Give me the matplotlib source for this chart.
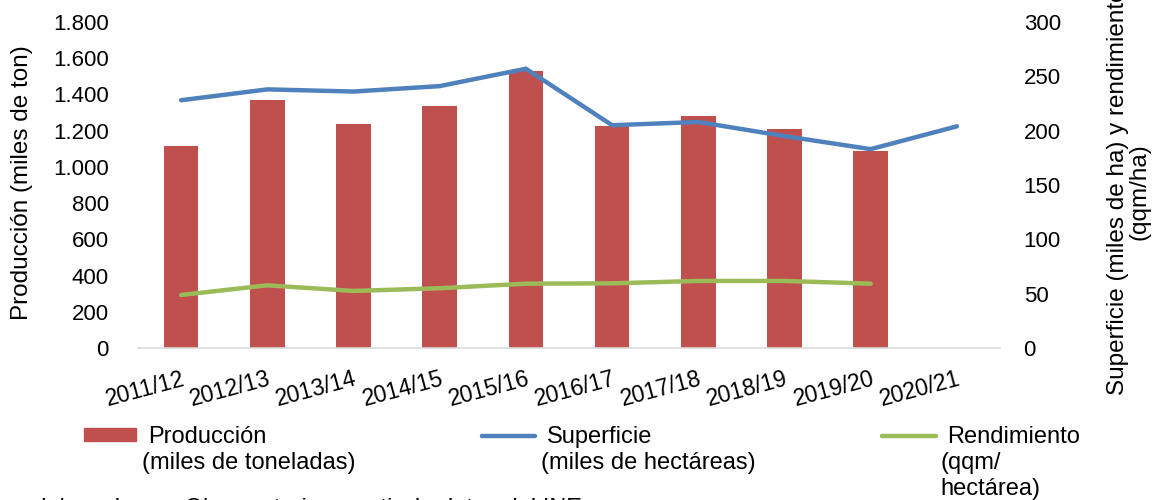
import matplotlib
matplotlib.use("Agg")
import matplotlib.pyplot as plt
import numpy as np
from matplotlib.patches import Rectangle
from matplotlib.lines import Line2D

plt.rcParams['font.family'] = ['Liberation Sans', 'DejaVu Sans']

campaigns = ["2011/12", "2012/13", "2013/14", "2014/15", "2015/16",
             "2016/17", "2017/18", "2018/19", "2019/20", "2020/21"]
produccion = [1115, 1368, 1238, 1336, 1531, 1224, 1281, 1207, 1089, np.nan]
superficie = [228, 238, 236, 241, 257, 205, 208, 195, 183, 204]
rendimiento = [48.8, 57.7, 52.5, 55.0, 59.2, 59.5, 61.7, 61.7, 59.2, np.nan]
left_ticks = [0, 200, 400, 600, 800, 1000, 1200, 1400, 1600, 1800]
left_tick_labels = ["0", "200", "400", "600", "800", "1.000", "1.200", "1.400", "1.600", "1.800"]
right_ticks = [0, 50, 100, 150, 200, 250, 300]

RED = "#C0504D"
BLUE = "#4F81BD"
GREEN = "#9BBB59"
FS = 16
FS_T = 17.5
FS_L = 17

W, H = 1161, 500
fig = plt.figure(figsize=(W / 100, H / 100), dpi=100)
ax = fig.add_axes([138 / W, 1 - 348 / H, (1000 - 138) / W, (348 - 22) / H])
ax2 = ax.twinx()

x = np.arange(len(campaigns))
ax.bar(x, produccion, width=0.4, color=RED, zorder=2)
ax2.plot(x, superficie, color=BLUE, lw=3.2, solid_capstyle='round', solid_joinstyle='miter')
ax2.plot(x, rendimiento, color=GREEN, lw=3.2, solid_capstyle='round', solid_joinstyle='miter')

ax.set_xlim(-0.5, len(campaigns) - 0.5)
ax.set_ylim(0, 1800)
ax2.set_ylim(0, 300)
ax.set_yticks(left_ticks)
ax.set_yticklabels(left_tick_labels)
ax2.set_yticks(right_ticks)
ax.set_xticks(x)
ax.set_xticklabels(campaigns, rotation=15, ha='right', va='top', rotation_mode='anchor',
                   fontsize=16.5)

for a in (ax, ax2):
    for s in a.spines.values():
        s.set_visible(False)
    a.tick_params(axis='y', length=0, labelsize=FS)
ax.tick_params(axis='x', length=0)
ax.spines['bottom'].set_visible(True)
ax.spines['bottom'].set_color('#D9D9D9')
ax.spines['bottom'].set_linewidth(1.2)
ax.tick_params(axis='y', pad=21)
ax.tick_params(axis='x', pad=14)
ax2.tick_params(axis='y', pad=17)

fig.text(22 / W, 1 - 183 / H, "Producción (miles de ton)", rotation=90,
         ha='center', va='center', fontsize=FS_T)
fig.text(1129 / W, 1 - 192 / H, "Superficie (miles de ha) y rendimiento\n(qqm/ha)",
         rotation=90, ha='center', va='center', multialignment='center',
         fontsize=FS_T, linespacing=0.95)

# legend (manual)
def ftxt(px, py, s):
    fig.text(px / W, 1 - py / H, s, ha='left', va='center', fontsize=FS_L)

fig.patches.append(Rectangle((84 / W, 1 - 441 / H), 52 / W, 13 / H,
                             transform=fig.transFigure, color=RED))
ftxt(148, 437, "Producción")
ftxt(142, 463, "(miles de toneladas)")
fig.lines.append(Line2D([482 / W, 535 / W], [1 - 436 / H] * 2, transform=fig.transFigure,
                        color=BLUE, lw=3.2, solid_capstyle='round'))
ftxt(547, 437, "Superficie")
ftxt(541, 463, "(miles de hectáreas)")
fig.lines.append(Line2D([882 / W, 936 / W], [1 - 436 / H] * 2, transform=fig.transFigure,
                        color=GREEN, lw=3.2, solid_capstyle='round'))
ftxt(947, 437, "Rendimiento")
ftxt(940, 463, "(qqm/")
ftxt(940, 489, "hectárea)")

fig.text(28 / W, 1 - 515 / H, "elaborado con Observatorio a partir de datos del INE",
         ha='left', va='baseline', fontsize=FS_L)

fig.savefig("out.png", dpi=100)
